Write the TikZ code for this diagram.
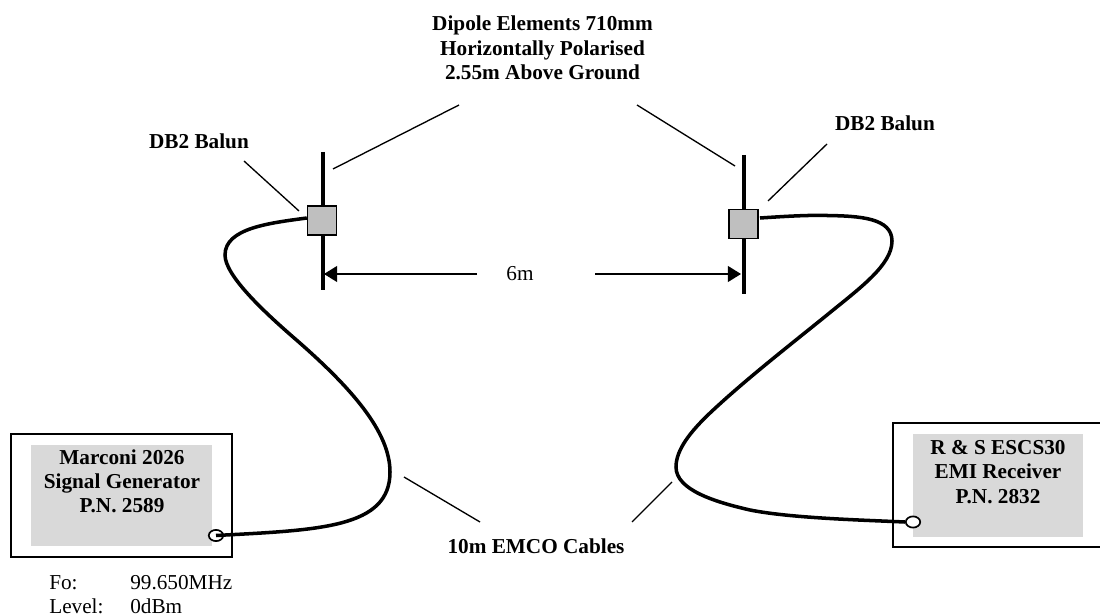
\documentclass[tikz,border=0pt]{standalone}
\usepackage{fontspec}
\setmainfont{Liberation Serif}
\usetikzlibrary{arrows.meta, positioning, calc, shapes.geometric}
\tikzset{
  txt/.style={font=\fontsize{15.1}{17.4}\selectfont, inner sep=0pt, align=center},
  title/.style={txt, font=\fontsize{15.1}{17.4}\selectfont\bfseries},
  unit/.style={draw, line width=1.4pt, fill=white, inner sep=0pt},
  panel/.style={fill=gray!30, inner sep=0pt},
  balun/.style={draw, line width=1.1pt, fill=gray!50, minimum size=0.72cm, inner sep=0pt},
  port/.style={ellipse, draw, line width=1.2pt, fill=white, minimum width=0.36cm, minimum height=0.28cm, inner sep=0pt},
  dipole/.style={line width=2.8pt},
  cable/.style={line width=2.5pt},
  leader/.style={line width=0.95pt}
}
\begin{document}
\begin{tikzpicture}[x=0.025cm, y=-0.025cm, >={Triangle[length=3.3mm, width=4mm]}]
\clip (0,0) rectangle (1100,616);
\useasboundingbox (0,0) rectangle (1100,616);
\fill[white] (0,0) rectangle (1100,616);

% instruments
\node[unit, minimum width=5.525cm, minimum height=3.075cm] (gen) at (121.5,495.5) {};
\node[panel, minimum width=4.525cm, minimum height=2.525cm] (genpanel) at (121.5,495.5) {};
\node[title, anchor=north] (genlabel) at (122,449) {Marconi 2026\\Signal Generator\\P.N. 2589};
\node[unit, minimum width=5.6cm, minimum height=3.1cm] (rcv) at (1005,485) {};
\node[panel, minimum width=4.25cm, minimum height=2.575cm] (rcvpanel) at (998,485.5) {};
\node[title, anchor=north] (rcvlabel) at (998,440) {R \& S ESCS30\\EMI Receiver\\P.N. 2832};

% dipoles
\coordinate (dipLtop) at (323,152);
\coordinate (dipLbot) at (323,290);
\coordinate (dipRtop) at (744,155);
\coordinate (dipRbot) at (744,294);
\draw[dipole] (dipLtop) -- (dipLbot);
\draw[dipole] (dipRtop) -- (dipRbot);
\node[balun] (balunL) at (322,220.5) {};
\node[balun] (balunR) at (743.5,224) {};

% cables
\node[port] (portL) at (216,535.5) {};
\node[port] (portR) at (913,522) {};
\draw[cable] (balunL.west |- 0,218) .. controls (270,223) and (225,228) .. (225,255)
  .. controls (225,275) and (262,310) .. (293,337)
  .. controls (352,388) and (390,432) .. (390,472)
  .. controls (390,528) and (320,530) .. (portL.center);
\draw[cable] (760,218) .. controls (790,216) and (810,215) .. (827,215.5)
  .. controls (860,216) and (892,218) .. (892,241)
  .. controls (892,265) and (860,288) .. (827,315)
  .. controls (790,345) and (745,380) .. (710,413)
  .. controls (690,432) and (676,450) .. (676,467)
  .. controls (676,490) and (715,502) .. (750,510)
  .. controls (790,518) and (860,520) .. (portR.west);

% separation
\node[txt] (span) at (520,274) {6m};
\coordinate (spanL) at (477,274);
\coordinate (spanR) at (595,274);
\coordinate (tipL) at (324,274);
\coordinate (tipR) at (741,274);
\draw[->, line width=1pt] (spanL) -- (tipL);
\draw[->, line width=1pt] (spanR) -- (tipR);

% labels
\node[title] (dipoletxt) at (542.5,48) {Dipole Elements 710mm\\Horizontally Polarised\\2.55m Above Ground};
\node[title] (balunLtxt) at (199,141) {DB2 Balun};
\node[title] (balunRtxt) at (885,123) {DB2 Balun};
\node[title] (cabletxt) at (536,546) {10m EMCO Cables};
\node[txt, anchor=base west] (fo) at (49,589.5) {Fo:};
\node[txt, anchor=base west] (fov) at (130,589.5) {99.650MHz};
\node[txt, anchor=base west] (lvl) at (49,613.5) {Level:};
\node[txt, anchor=base west] (lvlv) at (130,613.5) {0dBm};

% leaders
\coordinate (l1) at (459,105);
\coordinate (l2) at (333,169);
\coordinate (l3) at (637,105);
\coordinate (l4) at (735,166);
\coordinate (l5) at (244,161);
\coordinate (l6) at (299,211);
\coordinate (l7) at (827,144);
\coordinate (l8) at (768,201);
\coordinate (l9) at (404,477);
\coordinate (l10) at (480,522);
\coordinate (l11) at (672,482);
\coordinate (l12) at (632,522);
\draw[leader] (l1) -- (l2);
\draw[leader] (l3) -- (l4);
\draw[leader] (l5) -- (l6);
\draw[leader] (l7) -- (l8);
\draw[leader] (l9) -- (l10);
\draw[leader] (l11) -- (l12);
\end{tikzpicture}
\end{document}
